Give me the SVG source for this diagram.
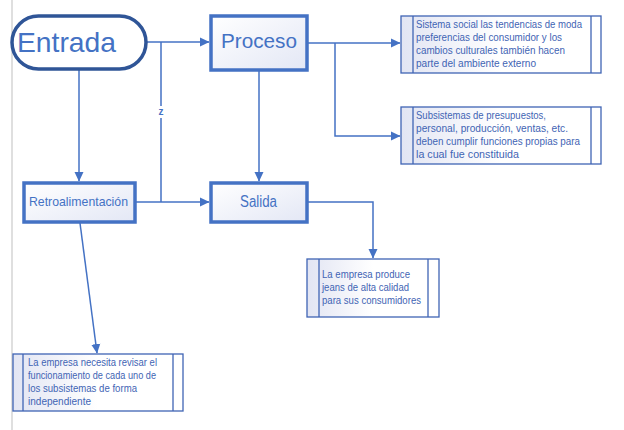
<svg xmlns="http://www.w3.org/2000/svg" width="624" height="430" viewBox="0 0 624 430">
<style>
.ln{fill:none;stroke:#4472C4;stroke-width:1.5}
.big{fill:url(#gb);stroke:#4472C4;stroke-width:3.5}
.sm{fill:url(#gs);stroke:#3F64B4;stroke-width:1.3}
.div{stroke:#3F64B4;stroke-width:1.3}
text{font-family:"Liberation Sans",Arial,sans-serif;fill:#4472C4}
.t{font-size:10.5px;fill:#3F64B4}
</style>
<defs>
<linearGradient id="gb" x1="0" y1="0" x2="1" y2="1"><stop offset="0" stop-color="#FFFFFF"/><stop offset="1" stop-color="#E3E7F5"/></linearGradient>
<linearGradient id="gs" x1="0" y1="0" x2="1" y2="0"><stop offset="0" stop-color="#E2E5F3"/><stop offset="0.5" stop-color="#FFFFFF"/><stop offset="1" stop-color="#FFFFFF"/></linearGradient>
<marker id="ar" markerWidth="10" markerHeight="10" refX="9" refY="5" orient="auto" markerUnits="userSpaceOnUse"><path d="M0,0.5 L9.5,5 L0,9.5 Z" fill="#4472C4"/></marker>
</defs>
<line x1="12" y1="0" x2="12" y2="430" stroke="#BFBFBF" stroke-width="1"/>
<g id="connectors">
<path class="ln" d="M146,42 H209" marker-end="url(#ar)"/>
<path class="ln" d="M161,42 V106 M161,118 V202"/>
<text x="161" y="115" text-anchor="middle" style="font-size:10px;font-weight:bold">z</text>
<path class="ln" d="M79,69 V181" marker-end="url(#ar)"/>
<path class="ln" d="M135,202 H209" marker-end="url(#ar)"/>
<path class="ln" d="M259,71 V181" marker-end="url(#ar)"/>
<path class="ln" d="M307,43 H400" marker-end="url(#ar)"/>
<path class="ln" d="M335,43 V136 H400" marker-end="url(#ar)"/>
<path class="ln" d="M307,202 H373 V258" marker-end="url(#ar)"/>
<path class="ln" d="M80,223 L97,353" marker-end="url(#ar)"/>
</g>
<g id="entrada">
<rect x="12" y="16" width="134" height="53" rx="26.5" fill="#FFFFFF" stroke="#2F5597" stroke-width="3.5"/>
<text x="17" y="52" style="font-size:28px" textLength="99" lengthAdjust="spacingAndGlyphs">Entrada</text>
</g>
<g id="proceso">
<rect class="big" x="211" y="16" width="96" height="54"/>
<text x="221" y="48" style="font-size:20px" textLength="76" lengthAdjust="spacingAndGlyphs">Proceso</text>
</g>
<g id="retroalimentacion">
<rect class="big" x="24" y="183" width="111" height="39"/>
<text x="29" y="206" style="font-size:13px" textLength="99" lengthAdjust="spacingAndGlyphs">Retroalimentación</text>
</g>
<g id="salida">
<rect class="big" x="211" y="183" width="96" height="39"/>
<text x="240" y="207" style="font-size:16px" textLength="37" lengthAdjust="spacingAndGlyphs">Salida</text>
</g>
<g id="nota1">
<rect class="sm" x="401" y="16" width="200" height="57"/>
<line class="div" x1="413" y1="16" x2="413" y2="73"/><line class="div" x1="591" y1="16" x2="591" y2="73"/>
<text class="t" x="416" y="28" textLength="166" lengthAdjust="spacingAndGlyphs">Sistema social las tendencias de moda</text>
<text class="t" x="416" y="41" textLength="146" lengthAdjust="spacingAndGlyphs">preferencias del consumidor y los</text>
<text class="t" x="416" y="54" textLength="149" lengthAdjust="spacingAndGlyphs">cambios culturales también hacen</text>
<text class="t" x="416" y="67" textLength="120" lengthAdjust="spacingAndGlyphs">parte del ambiente externo</text>
</g>
<g id="nota2">
<rect class="sm" x="401" y="107" width="200" height="57"/>
<line class="div" x1="413" y1="107" x2="413" y2="164"/><line class="div" x1="591" y1="107" x2="591" y2="164"/>
<text class="t" x="416" y="119" textLength="130" lengthAdjust="spacingAndGlyphs">Subsistemas de presupuestos,</text>
<text class="t" x="416" y="132" textLength="152" lengthAdjust="spacingAndGlyphs">personal, producción, ventas, etc.</text>
<text class="t" x="416" y="145" textLength="164" lengthAdjust="spacingAndGlyphs">deben cumplir funciones propias para</text>
<text class="t" x="416" y="158" textLength="103" lengthAdjust="spacingAndGlyphs">la cual fue constituida</text>
</g>
<g id="nota3">
<rect class="sm" x="307" y="259" width="132" height="58"/>
<line class="div" x1="319" y1="259" x2="319" y2="317"/><line class="div" x1="428" y1="259" x2="428" y2="317"/>
<text class="t" x="322" y="278" textLength="88" lengthAdjust="spacingAndGlyphs">La empresa produce</text>
<text class="t" x="322" y="291" textLength="87" lengthAdjust="spacingAndGlyphs">jeans de alta calidad</text>
<text class="t" x="322" y="304" textLength="99" lengthAdjust="spacingAndGlyphs">para sus consumidores</text>
</g>
<g id="nota4">
<rect class="sm" x="13" y="354" width="170" height="57"/>
<line class="div" x1="23" y1="354" x2="23" y2="411"/><line class="div" x1="173" y1="354" x2="173" y2="411"/>
<text class="t" x="28" y="366" textLength="129" lengthAdjust="spacingAndGlyphs">La empresa necesita revisar el</text>
<text class="t" x="28" y="379" textLength="128" lengthAdjust="spacingAndGlyphs">funcionamiento de cada uno de</text>
<text class="t" x="28" y="392" textLength="109" lengthAdjust="spacingAndGlyphs">los subsistemas de forma</text>
<text class="t" x="28" y="405" textLength="63" lengthAdjust="spacingAndGlyphs">independiente</text>
</g>
</svg>
